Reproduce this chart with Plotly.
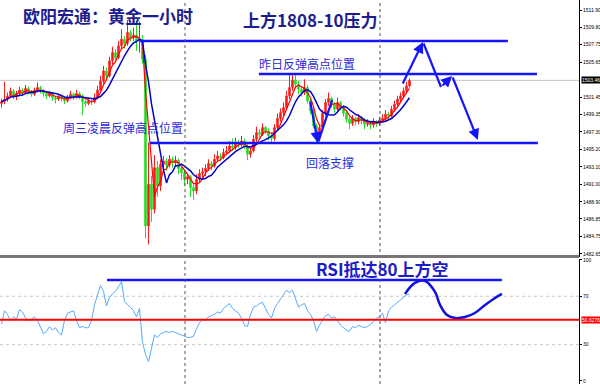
import plotly.graph_objects as go
import pandas as pd

# ---------------- data ----------------
bar_index = list(range(137))
opens = [1500.7,1500.9,1501.2,1501.6,1502.2,1501.5,1501.9,1502.3,1502.0,1502.5,
         1502.1,1501.8,1502.3,1502.6,1502.2,1501.9,1501.6,1501.9,1501.4,1501.2,
         1501.5,1501.3,1501.0,1501.4,1501.8,1501.5,1501.9,1501.6,1500.9,1500.7,
         1501.0,1500.9,1501.4,1502.3,1503.4,1504.6,1504.0,1505.8,1506.8,1506.2,
         1507.6,1508.4,1507.9,1509.2,1508.6,1508.9,1508.2,1508.4,1506.0,1486.0,
         1491.0,1488.0,1493.0,1490.8,1493.4,1493.8,1493.3,1494.0,1493.6,1493.9,
         1492.9,1492.4,1491.6,1491.9,1490.6,1490.2,1491.6,1492.3,1492.5,1492.9,
         1493.5,1493.2,1494.0,1494.4,1494.2,1494.8,1495.0,1495.6,1495.4,1496.0,
         1495.8,1496.2,1495.5,1494.6,1495.0,1496.4,1497.2,1497.0,1497.8,1497.4,
         1496.8,1496.5,1497.8,1498.9,1499.6,1500.2,1501.6,1502.6,1503.5,1503.0,
         1502.4,1502.0,1502.6,1501.0,1499.8,1498.0,1496.6,1497.8,1499.5,1500.8,
         1501.3,1500.6,1500.0,1500.8,1500.2,1499.5,1498.8,1498.3,1498.9,1498.5,
         1499.0,1498.6,1498.2,1498.4,1498.1,1498.5,1498.3,1498.7,1498.9,1499.4,
         1499.2,1500.0,1500.6,1501.2,1501.6,1502.2,1502.8]
highs = [1501.3,1503.3,1502.0,1502.6,1502.4,1502.2,1502.7,1502.5,1502.9,1502.7,
         1502.3,1502.6,1503.2,1502.8,1502.4,1502.1,1502.2,1502.1,1501.6,1501.8,
         1501.7,1501.5,1501.7,1502.2,1502.0,1502.3,1502.1,1501.8,1501.1,1501.3,
         1501.2,1501.9,1502.8,1504.0,1505.2,1505.0,1506.3,1507.5,1507.2,1508.2,
         1509.6,1508.8,1510.7,1509.5,1509.8,1510.6,1510.5,1508.9,1506.5,1496.0,
         1492.0,1494.5,1493.8,1494.0,1494.4,1494.1,1494.5,1494.3,1494.4,1494.1,
         1493.2,1492.7,1492.3,1492.1,1491.0,1492.2,1492.8,1493.0,1493.4,1494.0,
         1493.8,1494.6,1495.0,1494.7,1495.3,1495.6,1496.2,1496.5,1496.6,1496.3,
         1496.8,1496.5,1495.8,1495.4,1496.9,1497.9,1497.6,1498.3,1498.0,1497.7,
         1497.2,1498.2,1499.5,1500.1,1500.8,1502.2,1504.3,1504.2,1504.3,1503.4,
         1502.8,1503.6,1502.9,1501.3,1500.1,1498.3,1498.2,1499.9,1501.2,1502.0,
         1501.5,1500.9,1501.4,1501.0,1500.5,1499.8,1499.1,1499.3,1499.1,1499.4,
         1499.2,1498.9,1498.8,1498.6,1498.9,1498.7,1499.1,1499.4,1499.9,1499.7,
         1500.4,1501.0,1501.6,1502.0,1502.6,1503.3,1503.7]
lows = [1500.2,1500.6,1500.9,1501.3,1501.2,1501.1,1501.7,1501.7,1501.8,1501.8,
        1501.5,1501.6,1502.0,1501.9,1501.5,1501.2,1501.4,1501.0,1500.7,1501.0,
        1500.9,1500.6,1500.8,1501.2,1501.1,1501.3,1501.2,1499.3,1500.3,1500.5,
        1500.5,1500.7,1501.2,1502.0,1503.1,1503.5,1503.8,1505.4,1505.6,1506.0,
        1507.2,1507.3,1507.6,1508.1,1508.2,1507.0,1506.8,1505.5,1484.5,1483.8,
        1486.5,1487.5,1489.5,1490.2,1492.8,1492.6,1493.0,1493.0,1493.2,1492.2,
        1491.5,1490.8,1491.0,1489.5,1489.1,1489.8,1491.2,1491.8,1492.0,1492.6,
        1492.7,1493.0,1493.7,1493.8,1494.0,1494.5,1494.8,1495.0,1495.1,1495.4,
        1495.5,1495.2,1493.9,1494.2,1494.8,1496.1,1496.6,1496.8,1497.0,1496.3,
        1496.0,1496.2,1497.5,1498.5,1499.2,1500.0,1501.2,1502.2,1502.6,1501.8,
        1501.5,1501.7,1500.7,1499.4,1497.7,1496.0,1496.3,1497.5,1499.2,1500.4,
        1500.2,1499.6,1499.8,1499.9,1499.1,1498.4,1497.6,1498.0,1498.1,1498.2,
        1498.2,1497.6,1497.9,1497.6,1497.8,1497.9,1498.0,1498.4,1498.6,1498.8,
        1499.0,1499.7,1500.3,1500.9,1501.3,1501.9,1502.6]
closes = [1500.9,1501.2,1501.6,1502.2,1501.5,1501.9,1502.3,1502.0,1502.5,1502.1,
          1501.8,1502.3,1502.6,1502.2,1501.9,1501.6,1501.9,1501.4,1501.2,1501.5,
          1501.3,1501.0,1501.4,1501.8,1501.5,1501.9,1501.6,1500.9,1500.7,1501.0,
          1500.9,1501.4,1502.3,1503.4,1504.6,1504.0,1505.8,1506.8,1506.2,1507.6,
          1508.4,1507.9,1509.2,1508.6,1508.9,1508.2,1508.4,1506.0,1486.0,1491.0,
          1488.0,1493.0,1490.8,1493.4,1493.8,1493.3,1494.0,1493.6,1493.9,1492.9,
          1492.4,1491.6,1491.9,1490.6,1490.2,1491.6,1492.3,1492.5,1492.9,1493.5,
          1493.2,1494.0,1494.4,1494.2,1494.8,1495.0,1495.6,1495.4,1496.0,1495.8,
          1496.2,1495.5,1494.6,1495.0,1496.4,1497.2,1497.0,1497.8,1497.4,1496.8,
          1496.5,1497.8,1498.9,1499.6,1500.2,1501.6,1502.6,1503.5,1503.0,1502.4,
          1502.0,1502.6,1501.0,1499.8,1498.0,1496.6,1497.8,1499.5,1500.8,1501.3,
          1500.6,1500.0,1500.8,1500.2,1499.5,1498.8,1498.3,1498.9,1498.5,1499.0,
          1498.6,1498.2,1498.4,1498.1,1498.5,1498.3,1498.7,1498.9,1499.4,1499.2,
          1500.0,1500.6,1501.2,1501.6,1502.2,1502.8,1503.46]
rsi = [47,58,55,50,53,51,59,57,52,50,51,53,50,44,39,41,45,42,44,40,
       38,50,56,57,58,50,44,45,44,44,50,63,72,79,74,62,69,72,74,78,
       82,66,63,61,58,53,60,32,22,16,28,38,36,39,40,41,40,41,40,39,
       38,37,36,36,37,43,48,51,50,53,54,55,57,56,60,62,64,60,58,56,
       52,46,45,55,61,62,64,65,60,55,52,60,64,68,72,75,73,75,68,61,
       63,64,58,55,50,41,46,50,54,55,52,53,50,46,44,42,41,45,44,46,
       45,44,45,47,49,52,53,56,48,58,61,63,65,67,69,71,72]

price_ticks = [1511.90, 1509.80, 1507.75, 1505.65, 1501.45, 1499.35, 1497.30,
               1495.20, 1493.10, 1491.00, 1488.90, 1486.85, 1484.75, 1482.65]
rsi_ticks = [100, 70, 30, 0]
last_price = 1503.46
rsi_level = 50.6276

# hand-drawn analysis lines (bar index, price)
resist_line = ([46.2, 168.8], 1508.18)
yday_line = ([85.8, 178.5], 1504.23)
support_line = ([49.5, 178.8], 1495.95)
forecast_x = [133.5, 140.5, 146.5, 150.2, 158.8]
forecast_p = [1502.9, 1508.06, 1502.67, 1503.99, 1496.31]
v_x = [102.8, 105.5, 110.2]
v_p = [1501.1, 1495.95, 1501.1]
rsi_line = ([35.2, 166.8], 83.5)
rsi_fc_x = [134.5, 137.8, 141.2, 144.5, 146.2, 148.5, 151.2, 154.5, 157.8, 161.2, 164.5, 166.8]
rsi_fc_v = [71.9, 81.0, 82.6, 73.6, 62.8, 54.5, 52.0, 52.9, 56.2, 62.8, 68.6, 71.9]
separators = [61.17, 126.17]

W, H = 600, 384
XD = 579 / W
cs = pd.Series(closes)
ma_fast = cs.rolling(4, min_periods=1).mean()
ma_slow = cs.rolling(8, min_periods=1).mean()

fig = go.Figure()
fig.add_trace(go.Candlestick(
    x=bar_index, open=opens, high=highs, low=lows, close=closes,
    increasing=dict(line=dict(color="#ff1a1a", width=1), fillcolor="#ff1a1a"),
    decreasing=dict(line=dict(color="#22dd22", width=1), fillcolor="#22dd22"),
    whiskerwidth=0, xaxis="x", yaxis="y"))
fig.add_trace(go.Scatter(x=bar_index, y=ma_fast, mode="lines",
                         line=dict(color="#ff0000", width=1.2), xaxis="x", yaxis="y"))
fig.add_trace(go.Scatter(x=bar_index, y=ma_slow, mode="lines",
                         line=dict(color="#0000c8", width=1.5), xaxis="x", yaxis="y"))
fig.add_trace(go.Scatter(x=bar_index, y=rsi, mode="lines",
                         line=dict(color="#55aaff", width=1), xaxis="x", yaxis="y2"))
fig.add_trace(go.Scatter(x=rsi_fc_x, y=rsi_fc_v, mode="lines",
                         line=dict(color="#1010e0", width=2.5, shape="spline"),
                         xaxis="x", yaxis="y2"))

shapes = []
BLUE = "#1414ff"
for (xs, p) in [resist_line, yday_line, support_line]:
    shapes.append(dict(type="line", xref="x", yref="y", x0=xs[0], x1=xs[1], y0=p, y1=p,
                       line=dict(color=BLUE, width=2.5)))
shapes.append(dict(type="line", xref="x", yref="y2", x0=rsi_line[0][0], x1=rsi_line[0][1],
                   y0=rsi_line[1], y1=rsi_line[1], line=dict(color=BLUE, width=2.5)))
# bid line
shapes.append(dict(type="line", xref="paper", yref="y", x0=0, x1=XD, y0=last_price, y1=last_price,
                   line=dict(color="#c8c8c8", width=1), layer="below"))
# rsi levels
for lv in [70, 30]:
    shapes.append(dict(type="line", xref="paper", yref="y2", x0=0, x1=XD, y0=lv, y1=lv,
                       line=dict(color="#c8c8c8", width=1, dash="dot"), layer="below"))
shapes.append(dict(type="line", xref="paper", yref="y2", x0=0, x1=XD, y0=rsi_level, y1=rsi_level,
                   line=dict(color="#ff0000", width=2)))
# separators
for s in separators:
    shapes.append(dict(type="line", xref="x", yref="paper", x0=s, x1=s, y0=0, y1=1,
                       line=dict(color="#555555", width=1, dash="dot")))
# panel divider
shapes.append(dict(type="line", xref="paper", yref="paper", x0=0, x1=XD,
                   y0=1 - 256.5 / H, y1=1 - 256.5 / H, line=dict(color="#777777", width=3)))

annotations = []
def arrow(x0, y0, x1, y1, head=True):
    annotations.append(dict(x=x1, y=y1, ax=x0, ay=y0, xref="x", yref="y", axref="x", ayref="y",
                            text="", showarrow=True, arrowhead=2 if head else 0, arrowsize=1,
                            arrowwidth=2.2, arrowcolor=BLUE, standoff=0, startstandoff=0))
for k in range(len(forecast_x) - 1):
    arrow(forecast_x[k], forecast_p[k], forecast_x[k + 1], forecast_p[k + 1], head=(k != 1))
arrow(v_x[0], v_p[0], v_x[1], v_p[1], head=True)
arrow(v_x[1], v_p[1], v_x[2], v_p[2], head=False)

def label(txt, px, py, size, color, bold=False):
    annotations.append(dict(x=px / W, y=1 - py / H, xref="paper", yref="paper", text=txt,
                            showarrow=False, xanchor="center", yanchor="middle",
                            font=dict(family="Noto Sans CJK SC", size=size, color=color,
                                      weight=700 if bold else 400)))
label("欧阳宏通：黄金一小时", 107.5, 15, 17, "#1d1d90", True)
label("上方1808-10压力", 310, 19.5, 17, "#1d1d90", True)
label("昨日反弹高点位置", 307, 64, 12, "#2a2ad8")
label("周三凌晨反弹高点位置", 123, 128, 12, "#2a2ad8")
label("回落支撑", 330, 162, 12, "#2a2ad8")
label("RSI抵达80上方空", 382, 268.5, 17, "#1c1cc8", True)

small = dict(family="Liberation Sans", size=5, color="#ffffff")
annotations.append(dict(x=XD + 2 / W, y=last_price, xref="paper", yref="y", text="1503.46",
                        showarrow=False, xanchor="left", yanchor="middle", bgcolor="#000000",
                        borderpad=0, font=small))
annotations.append(dict(x=XD + 2 / W, y=rsi_level, xref="paper", yref="y2", text="50.6276",
                        showarrow=False, xanchor="left", yanchor="middle", bgcolor="#ff0000",
                        borderpad=0, font=small))

axis_font = dict(family="Liberation Sans", size=5, color="#000000")
fig.update_layout(
    width=W, height=H, margin=dict(l=0, r=0, t=0, b=0, autoexpand=False),
    paper_bgcolor="white", plot_bgcolor="white", showlegend=False,
    xaxis=dict(domain=[0, XD], range=[-0.5, 192.5], visible=False,
               rangeslider=dict(visible=False), anchor="y2", automargin=False),
    yaxis=dict(domain=[1 - 257 / H, 1], range=[1482.28, 1513.10], side="right", anchor="x",
               tickvals=price_ticks, ticktext=[f"{v:.2f}" for v in price_ticks],
               ticks="outside", ticklen=2, tickcolor="#000", showgrid=False, zeroline=False,
               showline=True, linecolor="#000", linewidth=1, tickfont=axis_font,
               automargin=False, ticklabelstandoff=0),
    yaxis2=dict(domain=[0, 1 - 259 / H], range=[-2.5, 100.8], side="right", anchor="x",
                tickvals=rsi_ticks, ticktext=[str(v) for v in rsi_ticks],
                ticks="outside", ticklen=2, tickcolor="#000", showgrid=False, zeroline=False,
                showline=True, linecolor="#000", linewidth=1, tickfont=axis_font,
                automargin=False, ticklabelstandoff=0),
    shapes=shapes, annotations=annotations,
)
fig.write_html("out.html")
